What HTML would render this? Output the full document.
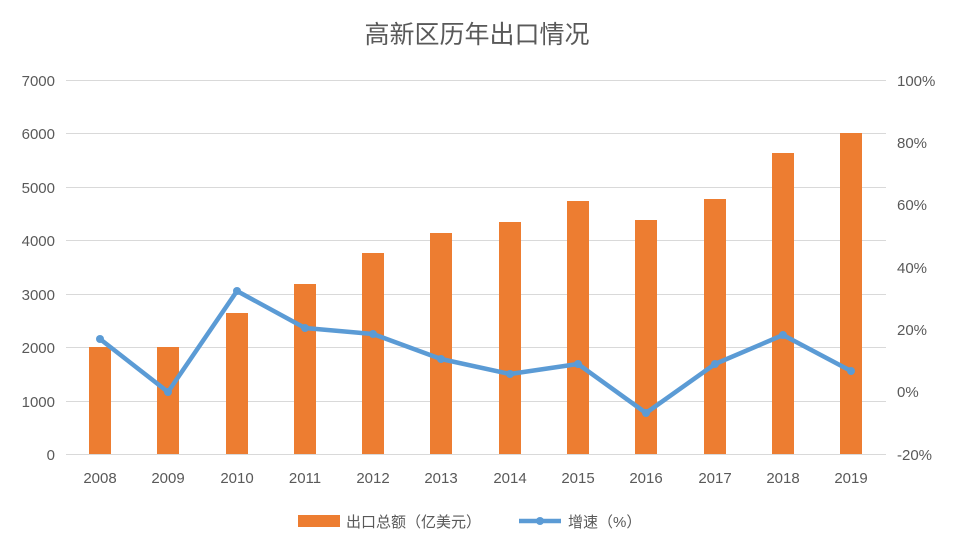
<!DOCTYPE html>
<html><head><meta charset="utf-8"><style>
html,body{margin:0;padding:0;background:#fff;}
svg{display:block;}
text{font-family:"Liberation Sans","Noto Sans CJK SC",sans-serif;fill:#595959;}
</style></head><body>
<svg width="955" height="552" viewBox="0 0 955 552" xmlns="http://www.w3.org/2000/svg">
<rect width="955" height="552" fill="#fff"/>
<text x="477" y="43" font-size="25" text-anchor="middle">高新区历年出口情况</text>
<g stroke="#d9d9d9" stroke-width="1">
<line x1="66" x2="886" y1="80.5" y2="80.5"/>
<line x1="66" x2="886" y1="133.5" y2="133.5"/>
<line x1="66" x2="886" y1="187.5" y2="187.5"/>
<line x1="66" x2="886" y1="240.5" y2="240.5"/>
<line x1="66" x2="886" y1="294.5" y2="294.5"/>
<line x1="66" x2="886" y1="347.5" y2="347.5"/>
<line x1="66" x2="886" y1="401.5" y2="401.5"/>
<line x1="66" x2="886" y1="454.5" y2="454.5"/>
</g>
<g font-size="15" text-anchor="end">
<text x="55" y="86">7000</text><text x="55" y="139">6000</text><text x="55" y="193">5000</text>
<text x="55" y="246">4000</text><text x="55" y="300">3000</text><text x="55" y="353">2000</text>
<text x="55" y="407">1000</text><text x="55" y="460">0</text>
</g>
<g font-size="15" text-anchor="start">
<text x="897" y="86">100%</text><text x="897" y="148">80%</text><text x="897" y="210">60%</text>
<text x="897" y="273">40%</text><text x="897" y="335">20%</text><text x="897" y="397">0%</text>
<text x="897" y="460">-20%</text>
</g>
<g fill="#ED7D31">
<rect x="89" y="347" width="22" height="107"/>
<rect x="157" y="347" width="22" height="107"/>
<rect x="226" y="313" width="22" height="141"/>
<rect x="294" y="284" width="22" height="170"/>
<rect x="362" y="253" width="22" height="201"/>
<rect x="430" y="233" width="22" height="221"/>
<rect x="499" y="222" width="22" height="232"/>
<rect x="567" y="201" width="22" height="253"/>
<rect x="635" y="220" width="22" height="234"/>
<rect x="704" y="199" width="22" height="255"/>
<rect x="772" y="153" width="22" height="301"/>
<rect x="840" y="133" width="22" height="321"/>
</g>
<g font-size="15" text-anchor="middle">
<text x="100" y="483">2008</text><text x="168" y="483">2009</text><text x="237" y="483">2010</text>
<text x="305" y="483">2011</text><text x="373" y="483">2012</text><text x="441" y="483">2013</text>
<text x="510" y="483">2014</text><text x="578" y="483">2015</text><text x="646" y="483">2016</text>
<text x="715" y="483">2017</text><text x="783" y="483">2018</text><text x="851" y="483">2019</text>
</g>
<polyline fill="none" stroke="#5B9BD5" stroke-width="4.5" stroke-linejoin="round" points="100,339 168,392 237,291 305,328 373,334 441,359 510,374 578,364 646,413 715,364 783,335 851,371"/>
<g fill="#5B9BD5">
<circle cx="100" cy="339" r="4"/><circle cx="168" cy="392" r="4"/><circle cx="237" cy="291" r="4"/>
<circle cx="305" cy="328" r="4"/><circle cx="373" cy="334" r="4"/><circle cx="441" cy="359" r="4"/>
<circle cx="510" cy="374" r="4"/><circle cx="578" cy="364" r="4"/><circle cx="646" cy="413" r="4"/>
<circle cx="715" cy="364" r="4"/><circle cx="783" cy="335" r="4"/><circle cx="851" cy="371" r="4"/>
</g>
<rect x="298" y="515" width="42" height="12" fill="#ED7D31"/>
<text x="346" y="527" font-size="15">出口总额（亿美元）</text>
<line x1="519" x2="561" y1="521" y2="521" stroke="#5B9BD5" stroke-width="4.5"/>
<circle cx="540" cy="521" r="4" fill="#5B9BD5"/>
<text x="568" y="527" font-size="15">增速（%）</text>
</svg>
</body></html>
